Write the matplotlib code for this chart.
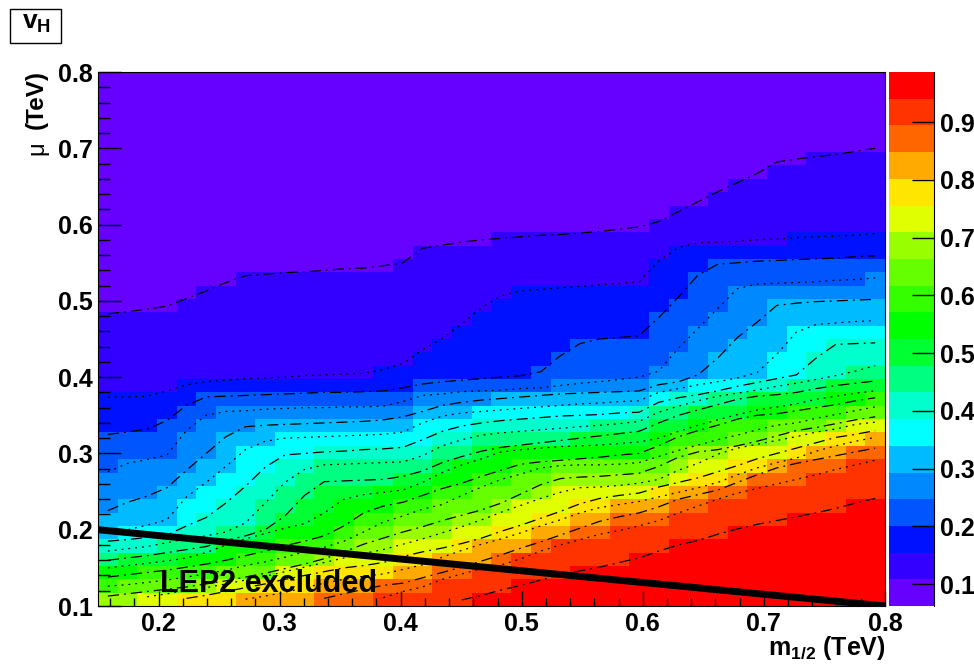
import numpy as np
import matplotlib
matplotlib.use("Agg")
import matplotlib.pyplot as plt
from matplotlib.colors import ListedColormap
from matplotlib.patches import Rectangle
from matplotlib.ticker import MultipleLocator

nan = float("nan")

# contour heights (mu in TeV) read per grid column, top contour first
c01 = [.483,.486,.489,.493,.503,.513,.524,.533,.535,.537,.538,.540,.542,.543,.546,.550,.569,.573,.577,.580,.582,.584,.586,.587,.589,.591,.594,.597,.604,.617,.630,.643,.655,.667,.682,.686,.689,.692,.696,.700]
c02 = [.374,.374,.375,.382,.390,.394,.396,.398,.399,.400,.402,.403,.404,.405,.410,.418,.436,.451,.470,.491,.507,.513,.515,.517,.519,.521,.523,.525,.552,.570,.576,.577,.578,.580,.581,.583,.584,.585,.586,.588]
c03 = [.325,.328,.332,.343,.363,.374,.375,.376,.377,.378,.379,.380,.380,.381,.382,.386,.391,.394,.396,.398,.400,.402,.407,.428,.444,.450,.452,.454,.478,.505,.534,.548,.550,.552,.553,.554,.555,.556,.558,.559]
c04 = [.276,.287,.292,.298,.330,.350,.355,.356,.358,.359,.360,.360,.361,.361,.362,.368,.376,.378,.381,.382,.383,.385,.386,.389,.392,.394,.397,.400,.408,.438,.464,.490,.516,.522,.523,.524,.525,.527,.528,.530]
c05 = [.225,.236,.244,.255,.278,.300,.322,.335,.337,.338,.339,.340,.341,.342,.344,.348,.355,.363,.367,.370,.372,.374,.376,.378,.379,.380,.381,.382,.390,.394,.403,.425,.452,.472,.494,.497,.499,.500,.501,.502]
c06 = [.196,.200,.206,.213,.243,.262,.283,.305,.316,.320,.321,.322,.323,.324,.325,.328,.340,.349,.353,.355,.357,.359,.361,.363,.365,.366,.368,.369,.380,.385,.390,.394,.399,.406,.430,.459,.469,.471,.473,.474]
c07 = [.185,.187,.190,.193,.205,.216,.235,.257,.282,.298,.300,.302,.303,.305,.306,.308,.318,.329,.336,.340,.343,.345,.347,.349,.350,.351,.353,.354,.367,.373,.377,.382,.388,.393,.398,.403,.425,.443,.444,.445]
c08 = [.172,.175,.178,.183,.188,.192,.197,.209,.235,.262,.279,.285,.286,.287,.288,.289,.297,.310,.318,.324,.327,.329,.331,.333,.335,.337,.339,.342,.354,.362,.369,.375,.379,.383,.388,.392,.397,.402,.408,.415]
c09 = [.160,.163,.166,.170,.174,.178,.186,.192,.200,.218,.245,.263,.264,.265,.266,.270,.277,.288,.296,.303,.308,.311,.314,.317,.320,.323,.326,.329,.340,.350,.357,.364,.371,.375,.377,.380,.385,.389,.392,.395]
c10 = [.150,.153,.156,.159,.163,.170,.180,.188,.195,.202,.208,.222,.240,.246,.249,.252,.262,.275,.285,.293,.302,.305,.307,.309,.310,.311,.313,.315,.320,.329,.337,.344,.351,.357,.361,.365,.371,.375,.379,.382]
c11 = [.138,.141,.144,.147,.151,.155,.160,.166,.172,.179,.185,.192,.205,.222,.231,.236,.245,.254,.261,.270,.278,.286,.289,.291,.293,.295,.298,.300,.310,.322,.330,.337,.345,.350,.352,.356,.360,.364,.369,.373]
c12 = [.126,.128,.131,.134,.138,.142,.147,.153,.158,.164,.171,.177,.185,.197,.210,.218,.227,.233,.245,.256,.266,.273,.281,.284,.285,.285,.286,.288,.296,.304,.311,.318,.324,.331,.337,.340,.346,.351,.356,.361]
c13 = [.113,.116,.119,.122,.125,.129,.133,.138,.143,.149,.155,.162,.171,.181,.189,.197,.204,.212,.219,.226,.235,.247,.259,.267,.269,.270,.272,.274,.283,.295,.302,.305,.310,.316,.323,.330,.334,.339,.344,.348]
c14 = [nan,nan,.112,.116,.120,.124,.129,.134,.139,.145,.151,.157,.163,.169,.174,.181,.188,.196,.204,.213,.223,.232,.241,.249,.255,.256,.258,.261,.266,.278,.287,.299,.307,.312,.317,.322,.328,.332,.338,.341]
c15 = [nan,nan,nan,nan,.110,.114,.119,.124,.129,.135,.140,.145,.150,.153,.157,.165,.171,.176,.182,.189,.198,.206,.215,.224,.234,.241,.245,.248,.256,.262,.268,.276,.284,.293,.300,.307,.314,.321,.325,.330]
c16 = [nan,nan,nan,nan,nan,nan,nan,.109,.113,.118,.124,.130,.135,.139,.142,.148,.154,.164,.173,.181,.188,.196,.205,.213,.222,.229,.233,.237,.243,.249,.255,.262,.272,.281,.288,.294,.303,.310,.316,.321]
c17 = [nan,nan,nan,nan,nan,nan,nan,nan,nan,nan,nan,.110,.116,.122,.127,.130,.137,.144,.151,.159,.167,.176,.184,.193,.202,.211,.217,.222,.230,.240,.246,.252,.262,.272,.281,.287,.292,.297,.302,.307]
c18 = [nan,nan,nan,nan,nan,nan,nan,nan,nan,nan,nan,nan,nan,nan,.111,.119,.125,.135,.142,.149,.154,.162,.172,.180,.187,.194,.199,.205,.212,.222,.231,.240,.248,.254,.260,.266,.272,.279,.285,.291]
c19 = [nan,nan,nan,nan,nan,nan,nan,nan,nan,nan,nan,nan,nan,nan,nan,nan,nan,nan,.108,.114,.121,.127,.134,.141,.146,.151,.157,.163,.172,.180,.186,.194,.201,.207,.212,.217,.222,.228,.235,.241]

contours = [c01, c02, c03, c04, c05, c06, c07, c08, c09, c10,
            c11, c12, c13, c14, c15, c16, c17, c18, c19]

band_colors = ["#6600ff", "#3300ff", "#0011ff", "#0055ff", "#0088ff",
               "#00bbff", "#00ffff", "#00ffcc", "#00ff80", "#00ff33",
               "#00ff00", "#33ff00", "#66ff00", "#99ff00", "#e0ff00",
               "#ffe600", "#ffaa00", "#ff6600", "#ff3300", "#ff0000"]
z_min = 0.062
z_max = 0.987

excl_x = [0.15, 0.8]
excl_y = [0.2, 0.1]

x_edges = np.linspace(0.15, 0.8, 41)
y_edges = np.linspace(0.1, 0.8, 41)
x_mid = (x_edges[:-1] + x_edges[1:]) / 2
y_mid = (y_edges[:-1] + y_edges[1:]) / 2

lines = np.array(contours)
band = np.zeros((40, 40))
for line in lines:
    band += y_mid[:, None] < line[None, :]

plt.rcParams["font.family"] = ["Liberation Sans", "DejaVu Sans"]
plt.rcParams["font.weight"] = "bold"
plt.rcParams["mathtext.fontset"] = "custom"
plt.rcParams["mathtext.rm"] = "Liberation Sans:bold"
plt.rcParams["mathtext.bf"] = "Liberation Sans:bold"
plt.rcParams["mathtext.it"] = "Liberation Sans:bold"

W, H = 974, 664
fig = plt.figure(figsize=(W / 100, H / 100), dpi=100)
ax = fig.add_axes([98 / W, 1 - 606 / H, 787 / W, 534 / H])
cmap = ListedColormap(band_colors)
ax.pcolormesh(x_edges, y_edges, band, cmap=cmap, vmin=-0.5, vmax=19.5,
              shading="flat", antialiased=False, linewidth=0)

for i, line in enumerate(lines):
    if i % 2 == 0:
        ax.plot(x_mid, line, color="black", lw=0.9, dashes=(9, 4, 1.5, 4))
    else:
        ax.plot(x_mid, line, color="black", lw=0.9, dashes=(1.5, 4))

ax.plot(excl_x, excl_y, color="black", lw=5, solid_capstyle="butt")
ax.text(0.2012, 0.118, "LEP2 excluded", fontsize=22, fontweight="bold", color="black")

ax.set_xlim(0.15, 0.8)
ax.set_ylim(0.1, 0.8)
ax.xaxis.set_major_locator(MultipleLocator(0.1))
ax.xaxis.set_minor_locator(MultipleLocator(0.02))
ax.yaxis.set_major_locator(MultipleLocator(0.1))
ax.yaxis.set_minor_locator(MultipleLocator(0.02))
ax.tick_params(which="major", axis="x", direction="in", length=11, width=1, labelsize=18, pad=4)
ax.tick_params(which="minor", axis="x", direction="in", length=5.5, width=1)
ax.tick_params(which="major", axis="y", direction="in", length=16.5, width=1, labelsize=18, pad=3.5)
ax.tick_params(which="minor", axis="y", direction="in", length=8.5, width=1)

fig.text(886 / W, 1 - 655 / H, r"$\mathregular{m_{1/2}}$ (TeV)", ha="right", va="baseline", fontsize=18)
fig.text(43 / W, 1 - 70 / H, "(TeV)", rotation=90, rotation_mode="anchor",
         ha="right", va="baseline", fontsize=17.5)
fig.text(43 / W, 1 - 141 / H, "\u03bc", rotation=90, rotation_mode="anchor",
         ha="right", va="baseline", fontsize=17, fontweight="normal")

cax = fig.add_axes([889 / W, 1 - 606 / H, 45 / W, 534 / H])
bar_edges = np.linspace(z_min, z_max, 21)
cax.pcolormesh([0, 1], bar_edges, np.arange(20)[:, None], cmap=cmap, vmin=-0.5, vmax=19.5,
               antialiased=False, linewidth=0)
cax.set_xticks([])
cax.yaxis.tick_right()
cax.set_yticks([0.1, 0.2, 0.3, 0.4, 0.5, 0.6, 0.7, 0.8, 0.9])
cax.tick_params(axis="y", direction="in", length=16, width=1, labelsize=18, pad=4)
for name in ["top", "left", "bottom"]:
    cax.spines[name].set_visible(False)

fig.add_artist(Rectangle((10 / W, 1 - 43 / H), 51 / W, 34 / H, transform=fig.transFigure,
                         facecolor="white", edgecolor="black", lw=1))
fig.text(22 / W, 1 - 29 / H, r"$\mathregular{v_H}$", ha="left", va="baseline", fontsize=19)

fig.savefig("out.png", dpi=100)
